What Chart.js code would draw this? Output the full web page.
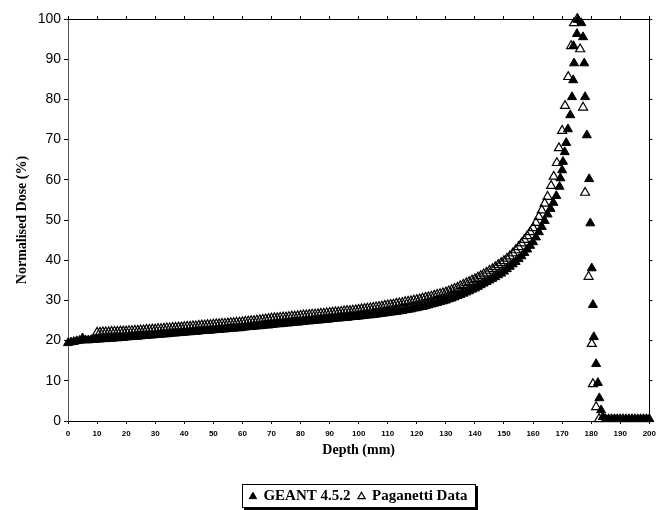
<!DOCTYPE html>
<html>
<head>
<meta charset="utf-8">
<script src="https://cdn.jsdelivr.net/npm/chart.js@4.4.1/dist/chart.umd.min.js"></script>
<style>
  html, body { margin: 0; padding: 0; background: #fff; }
  #wrap { width: 661px; height: 510px; position: relative; }
</style>
</head>
<body>
<div id="wrap"><canvas id="braggChart"></canvas></div>
<script>
'use strict';

// GEANT 4.5.2 - every mm up to 168, then the points around the peak, then the tail
const geantDepth = [
    0, 1, 2, 3, 4, 5, 6, 7, 8, 9, 10, 11, 12, 13, 14, 15, 16, 17, 18, 19, 20,
    21, 22, 23, 24, 25, 26, 27, 28, 29, 30, 31, 32, 33, 34, 35, 36, 37, 38, 39, 40,
    41, 42, 43, 44, 45, 46, 47, 48, 49, 50, 51, 52, 53, 54, 55, 56, 57, 58, 59, 60,
    61, 62, 63, 64, 65, 66, 67, 68, 69, 70, 71, 72, 73, 74, 75, 76, 77, 78, 79, 80,
    81, 82, 83, 84, 85, 86, 87, 88, 89, 90, 91, 92, 93, 94, 95, 96, 97, 98, 99, 100,
    101, 102, 103, 104, 105, 106, 107, 108, 109, 110, 111, 112, 113, 114, 115, 116, 117, 118, 119, 120,
    121, 122, 123, 124, 125, 126, 127, 128, 129, 130, 131, 132, 133, 134, 135, 136, 137, 138, 139, 140,
    141, 142, 143, 144, 145, 146, 147, 148, 149, 150, 151, 152, 153, 154, 155, 156, 157, 158, 159, 160,
    161, 162, 163, 164, 165, 166, 167, 168,
    169.1, 169.4, 170.0, 170.3, 170.9, 171.4, 172.0, 172.8, 173.4, 173.8, 174.1, 173.9,
    175.1, 175.5, 176.6, 177.2, 177.6, 177.9, 178.5, 179.3, 179.7, 180.2, 180.6, 180.9,
    181.7, 182.3, 182.8, 183.4, 184.0,
    185, 186, 187, 188, 189, 190, 191, 192, 193, 194, 195, 196, 197, 198, 199, 200
];
const geantDose = [
    19.4, 19.6, 19.7, 19.9, 20.0, 20.6, 20.1, 20.1, 20.2, 20.2, 20.3,
    20.3, 20.4, 20.4, 20.5, 20.5, 20.6, 20.6, 20.7, 20.7, 20.8,
    20.9, 20.9, 21.0, 21.0, 21.1, 21.2, 21.2, 21.3, 21.3, 21.4,
    21.5, 21.5, 21.6, 21.6, 21.7, 21.8, 21.8, 21.9, 21.9, 22.0,
    22.1, 22.1, 22.2, 22.2, 22.3, 22.4, 22.4, 22.5, 22.5, 22.6,
    22.7, 22.7, 22.8, 22.8, 22.9, 23.0, 23.0, 23.1, 23.1, 23.2,
    23.3, 23.4, 23.4, 23.5, 23.6, 23.6, 23.7, 23.8, 23.8, 23.9,
    24.0, 24.1, 24.1, 24.2, 24.3, 24.3, 24.4, 24.5, 24.5, 24.6,
    24.7, 24.8, 24.8, 24.9, 25.0, 25.0, 25.1, 25.2, 25.2, 25.3,
    25.4, 25.5, 25.5, 25.6, 25.7, 25.7, 25.8, 25.9, 25.9, 26.0,
    26.1, 26.2, 26.3, 26.3, 26.4, 26.5, 26.6, 26.7, 26.8, 26.9,
    27.0, 27.1, 27.2, 27.3, 27.4, 27.6, 27.7, 27.8, 28.0, 28.1,
    28.3, 28.4, 28.6, 28.8, 29.0, 29.2, 29.4, 29.6, 29.8, 30.0,
    30.3, 30.5, 30.8, 31.1, 31.4, 31.7, 32.0, 32.3, 32.7, 33.0,
    33.4, 33.8, 34.2, 34.6, 35.0, 35.4, 35.8, 36.3, 36.7, 37.2,
    37.8, 38.4, 39.0, 39.6, 40.3, 41.0, 41.8, 42.7, 43.6, 44.5,
    45.7, 47.0, 48.3, 49.8, 51.4, 52.8, 54.3, 56.0,
    58.3, 60.4, 62.4, 64.5, 66.9, 69.2, 72.6, 76.1, 80.6, 84.8, 89.0, 93.3,
    96.3, 99.8, 99.0, 95.5, 89.0, 80.6, 71.1, 60.2, 49.2, 38.0, 28.9, 20.9,
    14.2, 9.5, 5.7, 2.7, 1.0,
    0.5, 0.5, 0.5, 0.5, 0.5, 0.5, 0.5, 0.5, 0.5, 0.5, 0.5, 0.5, 0.5, 0.5, 0.5, 0.5
];

// Paganetti data - starts at 10 mm
const paganettiDepth = [
    10, 11, 12, 13, 14, 15, 16, 17, 18, 19, 20,
    21, 22, 23, 24, 25, 26, 27, 28, 29, 30, 31, 32, 33, 34, 35, 36, 37, 38, 39, 40,
    41, 42, 43, 44, 45, 46, 47, 48, 49, 50, 51, 52, 53, 54, 55, 56, 57, 58, 59, 60,
    61, 62, 63, 64, 65, 66, 67, 68, 69, 70, 71, 72, 73, 74, 75, 76, 77, 78, 79, 80,
    81, 82, 83, 84, 85, 86, 87, 88, 89, 90, 91, 92, 93, 94, 95, 96, 97, 98, 99, 100,
    101, 102, 103, 104, 105, 106, 107, 108, 109, 110, 111, 112, 113, 114, 115, 116, 117, 118, 119, 120,
    121, 122, 123, 124, 125, 126, 127, 128, 129, 130, 131, 132, 133, 134, 135, 136, 137, 138, 139, 140,
    141, 142, 143, 144, 145, 146, 147, 148, 149, 150, 151, 152, 153, 154, 155, 156, 157, 158, 159, 160,
    161, 162, 163, 164, 165,
    166.2, 167.1, 168.2, 168.9, 170.0, 171.0, 172.1, 173.1, 174.1, 175.2,
    176.2, 177.2, 177.9, 179.1, 180.2, 180.6, 181.7, 182.7
];
const paganettiDose = [
    22.0, 22.0, 22.1, 22.1, 22.1, 22.2, 22.2, 22.2, 22.3, 22.3, 22.3,
    22.4, 22.4, 22.5, 22.5, 22.6, 22.6, 22.7, 22.7, 22.8, 22.8,
    22.9, 22.9, 23.0, 23.1, 23.1, 23.2, 23.2, 23.3, 23.3, 23.4,
    23.5, 23.5, 23.6, 23.6, 23.7, 23.8, 23.8, 23.9, 23.9, 24.0,
    24.1, 24.1, 24.2, 24.2, 24.3, 24.4, 24.4, 24.5, 24.5, 24.6,
    24.7, 24.8, 24.9, 24.9, 25.0, 25.1, 25.2, 25.3, 25.4, 25.5,
    25.6, 25.6, 25.7, 25.8, 25.8, 25.9, 26.0, 26.0, 26.1, 26.2,
    26.3, 26.3, 26.4, 26.5, 26.5, 26.6, 26.7, 26.7, 26.8, 26.9,
    27.0, 27.1, 27.1, 27.2, 27.3, 27.4, 27.4, 27.5, 27.6, 27.7,
    27.8, 27.9, 28.0, 28.1, 28.2, 28.3, 28.4, 28.5, 28.7, 28.8,
    28.9, 29.0, 29.2, 29.3, 29.4, 29.6, 29.7, 29.8, 30.0, 30.1,
    30.3, 30.5, 30.7, 30.8, 31.0, 31.2, 31.4, 31.6, 31.8, 32.0,
    32.3, 32.6, 32.9, 33.2, 33.6, 33.9, 34.3, 34.6, 35.0, 35.3,
    35.7, 36.1, 36.5, 36.9, 37.4, 37.8, 38.3, 38.8, 39.3, 39.8,
    40.4, 41.0, 41.7, 42.5, 43.3, 44.2, 45.1, 46.0, 47.0, 48.0,
    49.3, 50.8, 52.4, 54.1, 55.8,
    58.5, 60.8, 64.2, 67.9, 72.2, 78.4, 85.6, 93.3, 99.0, 100.0,
    92.5, 78.0, 56.8, 35.9, 19.2, 9.2, 3.5, 0.5
];

const seriesNames = ['GEANT 4.5.2', 'Paganetti Data'];

const toPoints = (xs, ys) => xs.map((x, i) => ({ x: x, y: ys[i] }));

// box round the legend, with a heavier right/bottom edge like the original
const legendFrame = {
    id: 'legendFrame',
    afterDraw(chart) {
        const boxes = chart.legend.legendHitBoxes;
        if (!boxes || !boxes.length) return;
        const left = Math.min(...boxes.map(b => b.left)) - 8;
        const right = Math.max(...boxes.map(b => b.left + b.width)) + 8;
        const top = Math.min(...boxes.map(b => b.top)) - 5;
        const bottom = Math.max(...boxes.map(b => b.top + b.height)) + 3;
        const ctx = chart.ctx;
        ctx.save();
        ctx.strokeStyle = '#000';
        ctx.lineWidth = 1;
        ctx.strokeRect(Math.round(left) + 0.5, Math.round(top) + 0.5, Math.round(right - left), Math.round(bottom - top));
        ctx.lineWidth = 2;
        ctx.beginPath();
        ctx.moveTo(Math.round(right) + 2, Math.round(top) + 2);
        ctx.lineTo(Math.round(right) + 2, Math.round(bottom) + 2);
        ctx.lineTo(Math.round(left) + 2, Math.round(bottom) + 2);
        ctx.stroke();
        ctx.restore();
    }
};

const frameAxis = (position, size) => ({
    type: 'linear',
    position: position,
    min: 0,
    max: position === 'top' ? 200 : 100,
    ticks: { display: false, stepSize: 10 },
    grid: { drawOnChartArea: false, drawTicks: true, tickLength: 3, color: '#000' },
    border: { color: '#000', dash: position === 'right' ? [1, 1] : [] },
    afterFit: s => { if (position === 'top') s.height = size; else s.width = size; }
});

let braggChart = document.querySelector('#braggChart');
new Chart(braggChart, {
    type: 'scatter',
    data: {
        datasets: [
            {
                label: seriesNames[0],
                data: toPoints(geantDepth, geantDose),
                pointStyle: 'triangle',
                pointRadius: 5.2,
                pointBackgroundColor: '#000',
                pointBorderColor: '#000',
                pointBorderWidth: 1,
                backgroundColor: '#000',
                borderColor: '#000',
                clip: false
            },
            {
                label: seriesNames[1],
                data: toPoints(paganettiDepth, paganettiDose),
                pointStyle: 'triangle',
                pointRadius: 5.2,
                pointBackgroundColor: 'rgba(0,0,0,0)',
                pointBorderColor: '#000',
                pointBorderWidth: 1.2,
                backgroundColor: 'rgba(0,0,0,0)',
                borderColor: '#000',
                clip: false
            }
        ]
    },
    options: {
        responsive: true,
        maintainAspectRatio: false,
        animation: false,
        events: [],
        layout: { padding: 0 },
        plugins: {
            tooltip: { enabled: false },
            legend: {
                position: 'bottom',
                fullSize: false,
                maxHeight: 29,
                labels: {
                    color: '#000',
                    font: { family: 'Liberation Serif', size: 15, weight: 'bold' },
                    usePointStyle: true,
                    boxWidth: 6,
                    boxHeight: 6,
                    padding: 8
                }
            }
        },
        scales: {
            x: {
                type: 'linear',
                position: 'bottom',
                min: 0,
                max: 200,
                ticks: {
                    stepSize: 10,
                    color: '#000',
                    padding: 5,
                    maxRotation: 0,
                    autoSkip: false,
                    font: { family: 'Liberation Sans', size: 8, weight: 'bold' }
                },
                grid: { drawOnChartArea: false, tickLength: 3, color: '#000' },
                border: { color: '#000' },
                title: {
                    display: true,
                    text: 'Depth (mm)',
                    color: '#000',
                    font: { family: 'Liberation Serif', size: 14, weight: 'bold' },
                    padding: { top: 4, bottom: 22 }
                },
                afterFit: s => { s.height = 60; }
            },
            y: {
                type: 'linear',
                position: 'left',
                min: 0,
                max: 100,
                ticks: {
                    stepSize: 10,
                    color: '#000',
                    padding: 3,
                    font: { family: 'Liberation Sans', size: 14 }
                },
                grid: { drawOnChartArea: false, tickLength: 4, color: '#000' },
                border: { color: '#555', dash: [1, 1] },
                title: {
                    display: true,
                    text: 'Normalised Dose (%)',
                    color: '#000',
                    font: { family: 'Liberation Serif', size: 14, weight: 'bold' },
                    padding: { top: 14, bottom: 0 }
                },
                afterFit: s => { s.width = 68; }
            },
            x2: frameAxis('top', 19),
            y2: frameAxis('right', 10)
        }
    },
    plugins: [legendFrame]
});
</script>
</body>
</html>
